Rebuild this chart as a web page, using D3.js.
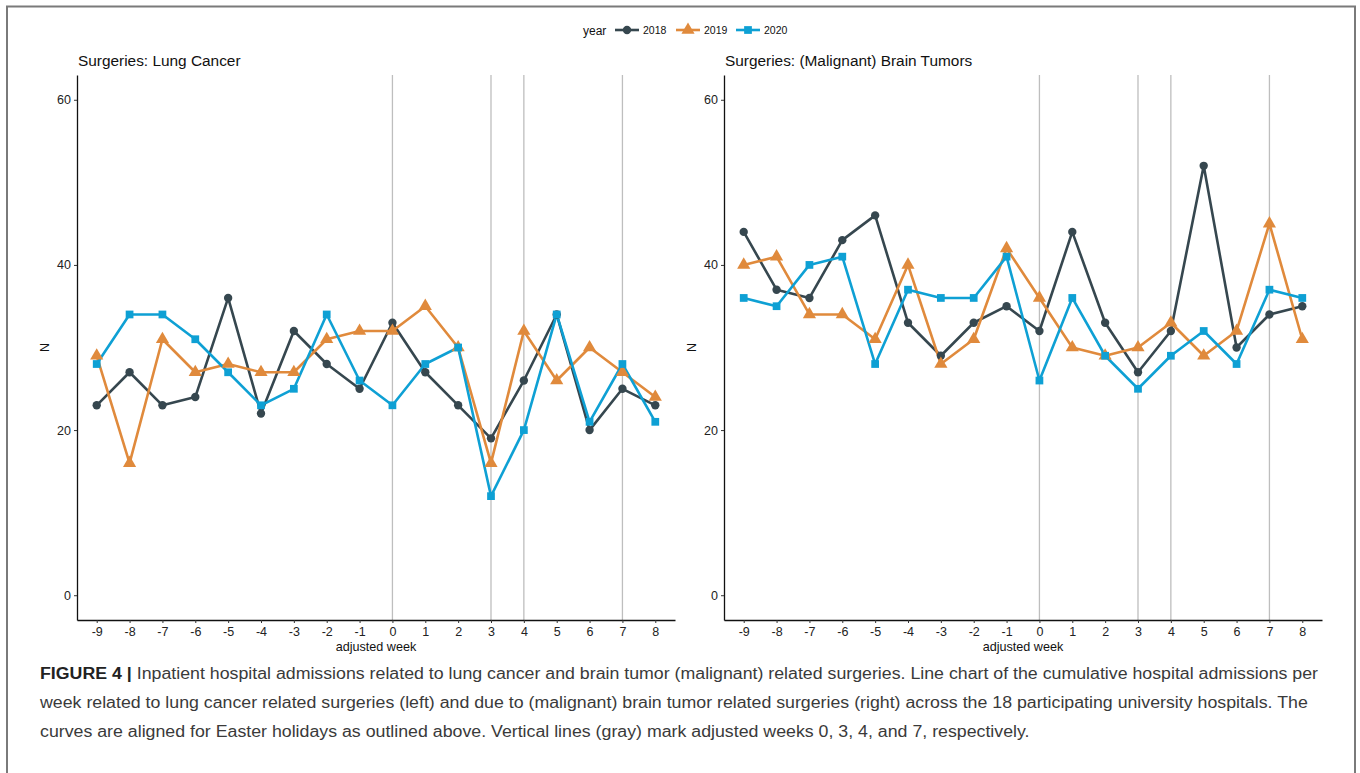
<!DOCTYPE html>
<html>
<head>
<meta charset="utf-8">
<script src="https://cdn.jsdelivr.net/npm/d3@7"></script>
<style>
  html, body { margin: 0; padding: 0; background: #fff; }
  svg { display: block; font-family: "Liberation Sans", Arial, sans-serif; }
</style>
</head>
<body>
<svg id="chart" width="1360" height="773"></svg>
<script>
const weeks = [-9, -8, -7, -6, -5, -4, -3, -2, -1, 0, 1, 2, 3, 4, 5, 6, 7, 8];
const years = ['2018', '2019', '2020'];
const markedWeeks = [0, 3, 4, 7];
const yTicks = [0, 20, 40, 60];

// lung cancer surgeries per adjusted week
const lung2018 = [23, 27, 23, 24, 36, 22, 32, 28, 25, 33, 27, 23, 19, 26, 34, 20, 25, 23];
const lung2019 = [29, 16, 31, 27, 28, 27, 27, 31, 32, 32, 35, 30, 16, 32, 26, 30, 27, 24];
const lung2020 = [28, 34, 34, 31, 27, 23, 25, 34, 26, 23, 28, 30, 12, 20, 34, 21, 28, 21];

// (malignant) brain tumor surgeries per adjusted week
const brain2018 = [44, 37, 36, 43, 46, 33, 29, 33, 35, 32, 44, 33, 27, 32, 52, 30, 34, 35];
const brain2019 = [40, 41, 34, 34, 31, 40, 28, 31, 42, 36, 30, 29, 30, 33, 29, 32, 45, 31];
const brain2020 = [36, 35, 40, 41, 28, 37, 36, 36, 41, 26, 36, 29, 25, 29, 32, 28, 37, 36];

const panels = [
  { title: 'Surgeries: Lung Cancer', left: 77, series: [lung2018, lung2019, lung2020] },
  { title: 'Surgeries: (Malignant) Brain Tumors', left: 724, series: [brain2018, brain2019, brain2020] }
];

const colors = d3.scaleOrdinal().domain(years).range(['#36474f', '#e08a3c', '#0ea0d4']);
const shapes = d3.scaleOrdinal().domain(years).range([d3.symbolCircle, d3.symbolTriangle, d3.symbolSquare]);
const sizes = d3.scaleOrdinal().domain(years).range([55, 75, 60]);

const svg = d3.select('#chart');
const panelW = 598, plotTop = 75, plotBottom = 620;

// outer frame (top, left, right)
svg.append('path')
  .attr('d', 'M7,800 V6.5 H1355 V800')
  .attr('fill', 'none').attr('stroke', '#7a7a7a').attr('stroke-width', 2);

const y = d3.scaleLinear().domain([-3, 63]).range([plotBottom, plotTop]);

panels.forEach(p => {
  const x = d3.scaleLinear().domain([-9.6, 8.6]).range([p.left, p.left + panelW]);
  const g = svg.append('g');

  g.selectAll('.vline').data(markedWeeks).enter().append('line')
    .attr('x1', d => x(d)).attr('x2', d => x(d))
    .attr('y1', plotTop).attr('y2', plotBottom)
    .attr('stroke', '#bebebe').attr('stroke-width', 1.3);

  const xAxis = g.append('g')
    .attr('transform', `translate(0,${plotBottom})`)
    .call(d3.axisBottom(x).tickValues(weeks).tickFormat(d => String(d)).tickSize(3).tickPadding(4).tickSizeOuter(0));
  const yAxis = g.append('g')
    .attr('transform', `translate(${p.left},0)`)
    .call(d3.axisLeft(y).tickValues(yTicks).tickSize(3).tickPadding(3).tickSizeOuter(0));
  [xAxis, yAxis].forEach(a => {
    a.select('.domain').attr('stroke', '#111').attr('stroke-width', 1.3);
    a.selectAll('.tick line').attr('stroke', '#333');
    a.selectAll('.tick text').attr('fill', '#222').style('font-size', '12.5px')
      .style('font-family', '"Liberation Sans", Arial, sans-serif');
  });

  g.append('text')
    .attr('x', p.left + 1).attr('y', 66)
    .style('font-size', '15.4px').attr('fill', '#111')
    .text(p.title);

  g.append('text')
    .attr('x', p.left + panelW / 2).attr('y', 651)
    .attr('text-anchor', 'middle')
    .style('font-size', '12.6px').attr('fill', '#111')
    .text('adjusted week');

  g.append('text')
    .attr('transform', `translate(${p.left - 28},${(plotTop + plotBottom) / 2}) rotate(-90)`)
    .attr('text-anchor', 'middle')
    .style('font-size', '12.5px').attr('fill', '#111')
    .text('N');

  const line = d3.line().x((d, i) => x(weeks[i])).y(d => y(d));
  p.series.forEach((s, k) => {
    g.append('path').datum(s)
      .attr('d', line)
      .attr('fill', 'none')
      .attr('stroke', colors(years[k]))
      .attr('stroke-width', 2.6)
      .attr('stroke-linejoin', 'round');
  });
  p.series.forEach((s, k) => {
    g.selectAll('.pt' + k).data(s).enter().append('path')
      .attr('transform', (d, i) => `translate(${x(weeks[i])},${y(d)})`)
      .attr('d', d3.symbol().type(shapes(years[k])).size(sizes(years[k])))
      .attr('fill', colors(years[k]));
  });
});

// legend
const legend = svg.append('g').attr('transform', 'translate(0,30)');
legend.append('text').attr('x', 583).attr('y', 4.5)
  .style('font-size', '12px').attr('fill', '#111').text('year');
const legendX = [615, 676, 736];
years.forEach((yr, i) => {
  const lg = legend.append('g').attr('transform', `translate(${legendX[i]},0)`);
  lg.append('line').attr('x1', 0).attr('x2', 24).attr('y1', 0).attr('y2', 0)
    .attr('stroke', colors(yr)).attr('stroke-width', 2.6);
  lg.append('path').attr('transform', 'translate(12,0)')
    .attr('d', d3.symbol().type(shapes(yr)).size(sizes(yr)))
    .attr('fill', colors(yr));
  lg.append('text').attr('x', 28).attr('y', 4)
    .style('font-size', '10.5px').attr('fill', '#111').text(yr);
});

// caption: first line is stretched to the measured reference width, the rest follow the same ratio
const captionLines = [
  { bold: 'FIGURE 4 |', rest: ' Inpatient hospital admissions related to lung cancer and brain tumor (malignant) related surgeries. Line chart of the cumulative hospital admissions per' },
  { rest: 'week related to lung cancer related surgeries (left) and due to (malignant) brain tumor related surgeries (right) across the 18 participating university hospitals. The' },
  { rest: 'curves are aligned for Easter holidays as outlined above. Vertical lines (gray) mark adjusted weeks 0, 3, 4, and 7, respectively.' }
];
const cap = svg.append('g')
  .style('font-family', '"Liberation Sans", Arial, sans-serif')
  .style('font-size', '16px');
const capTexts = captionLines.map((c, i) => {
  const t = cap.append('text')
    .attr('x', 40).attr('y', 679 + i * 29)
    .attr('fill', '#3a3a3a');
  if (c.bold) t.append('tspan').style('font-weight', 'bold').attr('fill', '#222').text(c.bold);
  t.append('tspan').text(c.rest);
  return t;
});
const stretch = (1318 - 40) / capTexts[0].node().getComputedTextLength();
capTexts.forEach(t => {
  const w = t.node().getComputedTextLength();
  t.attr('textLength', w * stretch).attr('lengthAdjust', 'spacingAndGlyphs');
});
</script>
</body>
</html>
